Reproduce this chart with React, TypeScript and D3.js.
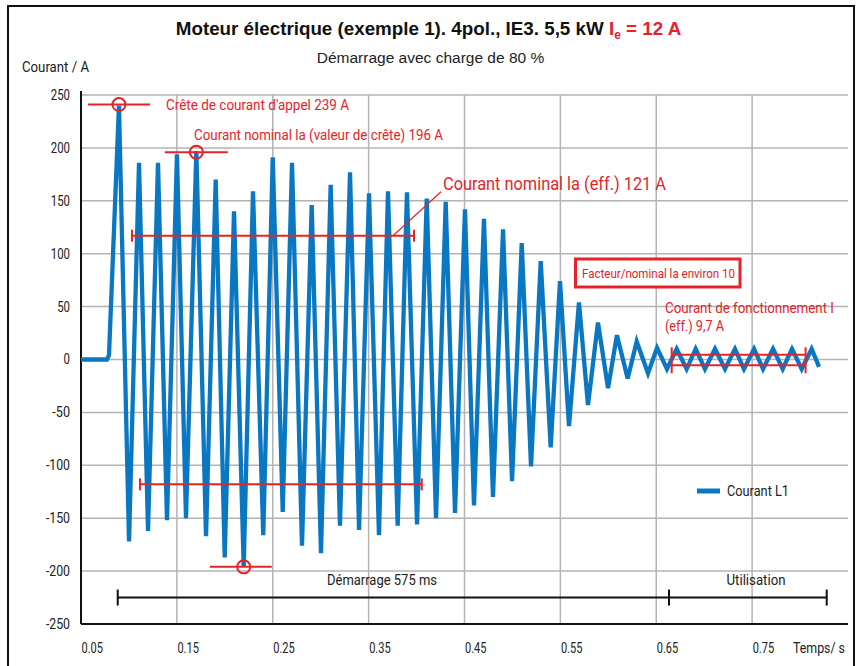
import React from "react";
import * as d3 from "d3";

// Courant L1 : temps (s) et valeurs (A)
const times = [
  0.05, 0.0771, 0.0792, 0.0896, 0.1001, 0.1105, 0.1199, 0.1303, 0.1397, 0.1501,
  0.1595, 0.1703, 0.1804, 0.1905, 0.1999, 0.2096, 0.2197, 0.2294, 0.2401, 0.25,
  0.2604, 0.2701, 0.2805, 0.2906, 0.3003, 0.3104, 0.3201, 0.3306, 0.34, 0.3504,
  0.3608, 0.3702, 0.3803, 0.39, 0.4005, 0.4106, 0.4203, 0.4304, 0.4401, 0.4505,
  0.4599, 0.4703, 0.4797, 0.4902, 0.4996, 0.5097, 0.5194, 0.5295, 0.5399, 0.5496,
  0.559, 0.5694, 0.5788, 0.5892, 0.5997, 0.609, 0.6202, 0.6296, 0.6414, 0.6508,
  0.6612, 0.6713, 0.6817, 0.6911, 0.7008, 0.7113, 0.7217, 0.7321, 0.7415, 0.752,
  0.7614, 0.7718, 0.7819, 0.7916, 0.8017, 0.8121, 0.8198,
];
const currentL1 = [
  0, 0, 4, 240, -172, 186, -162, 186, -152, 194,
  -150, 197, -167, 170, -187, 140, -196, 159, -166, 191,
  -144, 186, -176, 146, -183, 165, -157, 177, -161, 157,
  -166, 159, -157, 158, -156, 152, -150, 149, -145, 142,
  -138, 133, -130, 123, -115, 110, -101, 93, -83, 74,
  -63, 54, -43, 35, -27, 23, -18, 17, -13, 11,
  -9, 10, -9, 10, -9, 10, -9, 10, -9, 10,
  -9, 10, -9, 10, -9, 10, -7,
];

const yTicks = [-250, -200, -150, -100, -50, 0, 50, 100, 150, 200, 250];
const xTicks = [0.05, 0.15, 0.25, 0.35, 0.45, 0.55, 0.65, 0.75];
const xTickLabels = ["0.05", "0.15", "0.25", "0.35", "0.45", "0.55", "0.65", "0.75"];

// phases : démarrage 575 ms puis utilisation
const phaseBounds = [0.0883, 0.6633, 0.8278];
const phaseLabels = ["Démarrage 575 ms", "Utilisation"];

const W = 858;
const H = 666;
const RED = "#e5232b";
const BLUE = "#0a77c2";
const GRID = "#b4b4b4";
const cond = "Roboto, 'Liberation Sans', sans-serif";
const sans = "'Liberation Sans', Arial, sans-serif";

export default function App() {
  const x = d3.scaleLinear().domain([0.05, 0.85]).range([81, 848]);
  const y = d3.scaleLinear().domain([-250, 250]).range([624, 95]);

  const pts = times.map((t, i) => [t, currentL1[i]] as [number, number]);
  const line = d3
    .line<[number, number]>()
    .x((d) => x(d[0]))
    .y((d) => y(d[1]));

  const capH = 6;
  const redBar = (t0: number, t1: number, v: number, key: string) => (
    <g key={key} stroke={RED} strokeWidth={2}>
      <line x1={x(t0)} x2={x(t1)} y1={y(v)} y2={y(v)} />
      <line x1={x(t0)} x2={x(t0)} y1={y(v) - capH} y2={y(v) + capH} />
      <line x1={x(t1)} x2={x(t1)} y1={y(v) - capH} y2={y(v) + capH} />
    </g>
  );

  // texte étroit, largeur imposée
  const narrow = (
    s: string,
    px: number,
    py: number,
    w: number,
    fs: number,
    fill: string,
    anchor: "start" | "middle" = "start"
  ) => (
    <text
      x={px}
      y={py}
      dy="0.35em"
      textAnchor={anchor}
      fontFamily={cond}
      fontSize={fs}
      fill={fill}
      textLength={w}
      lengthAdjust="spacingAndGlyphs"
    >
      {s}
    </text>
  );

  return (
    <div style={{ position: "absolute", left: 0, top: 0 }}>
      <svg width={W} height={H} style={{ display: "block", background: "#fff" }}>
        <rect x={8} y={6} width={846} height={680} fill="none" stroke="#111" strokeWidth={2} />

        {/* titre */}
        <text x={428.5} y={35} textAnchor="middle" fontFamily={sans} fontWeight="bold" fontSize={18.8} fill="#111">
          Moteur électrique (exemple 1). 4pol., IE3. 5,5 kW{" "}
          <tspan fill={RED}>I</tspan>
          <tspan fill={RED} fontSize={12} dy={4}>e</tspan>
          <tspan fill={RED} dy={-4}> = 12 A</tspan>
        </text>
        <text x={430.5} y={63} textAnchor="middle" fontFamily={sans} fontSize={15.5} fill="#222">
          Démarrage avec charge de 80 %
        </text>
        {narrow("Courant / A", 22, 67, 67, 15, "#222")}

        {/* grille */}
        {yTicks.map((v) => (
          <line key={"gy" + v} x1={x(0.05)} x2={x(0.85)} y1={y(v)} y2={y(v)} stroke={GRID} strokeWidth={1.5} />
        ))}
        {xTicks.slice(1).map((t) => (
          <line key={"gx" + t} x1={x(t)} x2={x(t)} y1={y(250)} y2={y(-250)} stroke={GRID} strokeWidth={1.5} />
        ))}

        {/* axes */}
        <line x1={x(0.05)} x2={x(0.05)} y1={y(250) - 4} y2={y(-250)} stroke="#111" strokeWidth={2} />
        <line x1={x(0.05)} x2={x(0.85)} y1={y(-250)} y2={y(-250)} stroke="#111" strokeWidth={2} />
        {yTicks.map((v) => (
          <text key={"ly" + v} x={70} y={y(v)} dy="0.35em" textAnchor="end" fontFamily={cond} fontSize={14} fill="#222"
            textLength={String(v).length * 6.4 - (v < 0 ? 1.5 : 0)} lengthAdjust="spacingAndGlyphs">
            {v}
          </text>
        ))}
        {xTicks.map((t, i) => (
          <text key={"lx" + t} x={x(t) + 0.5} y={648} dy="0.35em" fontFamily={cond} fontSize={14} fill="#222"
            textLength={21.5} lengthAdjust="spacingAndGlyphs">
            {xTickLabels[i]}
          </text>
        ))}
        {narrow("Temps/ s", 793, 648, 52, 14, "#222")}

        {/* courbe */}
        <path d={line(pts) ?? ""} fill="none" stroke={BLUE} strokeWidth={4.3} />

        {/* annotations crête */}
        <g stroke={RED} strokeWidth={2} fill="none">
          <line x1={x(0.0574)} x2={x(0.122)} y1={y(241)} y2={y(241)} />
          <circle cx={x(0.0896)} cy={y(241)} r={6.5} />
          <line x1={x(0.1374)} x2={x(0.2031)} y1={y(196)} y2={y(196)} />
          <circle cx={x(0.1703)} cy={y(196)} r={6.5} />
          <line x1={x(0.1845)} x2={x(0.249)} y1={y(-196)} y2={y(-196)} />
          <circle cx={x(0.2197)} cy={y(-196)} r={6.5} />
          <line x1={x(0.3754)} x2={x(0.4255)} y1={y(117)} y2={y(158.5)} strokeWidth={1.2} />
        </g>
        {narrow("Crête de courant d'appel 239 A", 166, y(241), 183, 15, RED)}
        {narrow("Courant nominal la (valeur de crête) 196 A", 194, 135, 249, 15, RED)}
        {narrow("Courant nominal la (eff.) 121 A", 443, 183, 223, 19, RED)}
        {redBar(0.1032, 0.3973, 117, "bar1")}
        {redBar(0.1115, 0.4054, -118, "bar2")}

        {/* facteur */}
        <rect x={575.5} y={259} width={164.5} height={28} fill="#fff" stroke={RED} strokeWidth={3} />
        {narrow("Facteur/nominal la environ 10", 582, 273, 153, 13, RED)}
        {narrow("Courant de fonctionnement I", 665, 308, 169, 14, RED)}
        {narrow("(eff.) 9,7 A", 665, 326, 59, 14.5, RED)}
        <g stroke={RED} strokeWidth={2}>
          <line x1={x(0.6661)} x2={x(0.8058)} y1={y(4.5)} y2={y(4.5)} />
          <line x1={x(0.6661)} x2={x(0.8058)} y1={y(-5.5)} y2={y(-5.5)} />
          <line x1={x(0.6661)} x2={x(0.6661)} y1={y(11.5)} y2={y(-13)} />
          <line x1={x(0.8058)} x2={x(0.8058)} y1={y(11.5)} y2={y(-13)} />
        </g>

        {/* phases */}
        <g stroke="#111" strokeWidth={2}>
          <line x1={x(phaseBounds[0])} x2={x(phaseBounds[2])} y1={y(-225)} y2={y(-225)} />
          {phaseBounds.map((t) => (
            <line key={"pb" + t} x1={x(t)} x2={x(t)} y1={y(-225) - 8} y2={y(-225) + 8} />
          ))}
        </g>
        {narrow(phaseLabels[0], 382, 580, 110, 14.5, "#222", "middle")}
        {narrow(phaseLabels[1], 756, 580, 59, 14.5, "#222", "middle")}

        {/* légende */}
        <line x1={697} x2={720} y1={491} y2={491} stroke={BLUE} strokeWidth={5} />
        {narrow("Courant L1", 727, 491, 62, 14.5, "#222")}
      </svg>
    </div>
  );
}
